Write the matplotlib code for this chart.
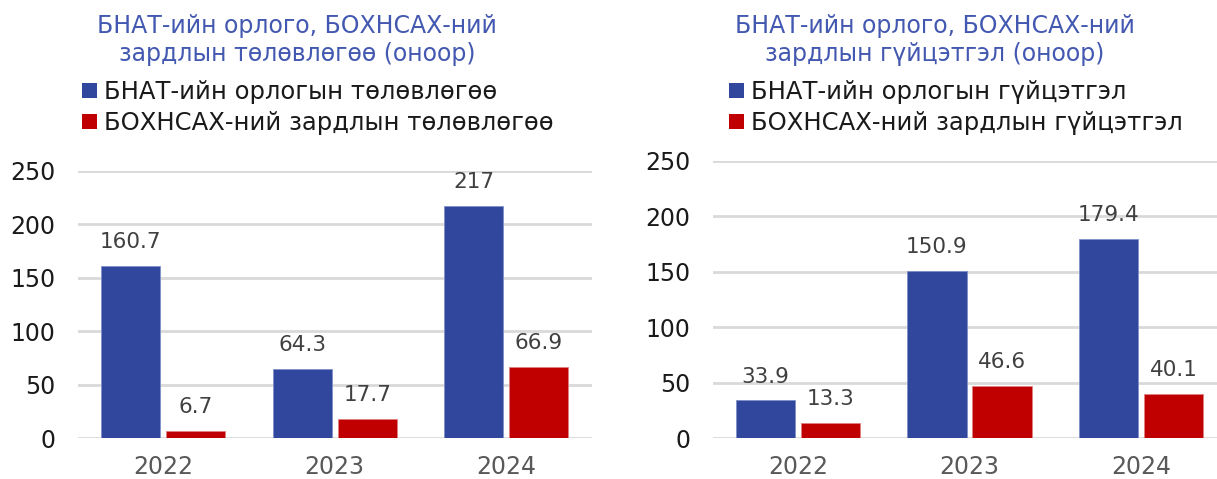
import matplotlib
matplotlib.use("Agg")
import matplotlib.pyplot as plt
from matplotlib.patches import Patch
import numpy as np

plt.rcParams['font.family'] = ['DejaVu Sans']

years = ["2022", "2023", "2024"]
plan_revenue = [160.7, 64.3, 217]
plan_expense = [6.7, 17.7, 66.9]
actual_revenue = [33.9, 150.9, 179.4]
actual_expense = [13.3, 46.6, 40.1]
yticks = [0, 50, 100, 150, 200, 250]

title_left = "БНАТ-ийн орлого, БОХНСАХ-ний\nзардлын төлөвлөгөө (оноор)"
title_right = "БНАТ-ийн орлого, БОХНСАХ-ний\nзардлын гүйцэтгэл (оноор)"
legend_left = ["БНАТ-ийн орлогын төлөвлөгөө", "БОХНСАХ-ний зардлын төлөвлөгөө"]
legend_right = ["БНАТ-ийн орлогын гүйцэтгэл", "БОХНСАХ-ний зардлын гүйцэтгэл"]

BLUE = "#31479D"
RED = "#C00000"
TITLE_C = "#4358B0"

W, H = 1217, 479
fig = plt.figure(figsize=(W / 100, H / 100), dpi=100)

def px_axes(x0, x1, ytop, ybot):
    return fig.add_axes([x0 / W, 1 - ybot / H, (x1 - x0) / W, (ybot - ytop) / H])

def draw(ax, s1, s2):
    x = np.arange(len(years))
    bw = 0.345
    off = 0.19
    b1 = ax.bar(x - off, s1, bw, color=BLUE, edgecolor="#8090c8", linewidth=0.6, zorder=3)
    b2 = ax.bar(x + off, s2, bw, color=RED, edgecolor="#e08080", linewidth=0.6, zorder=3)
    ax.bar_label(b1, labels=[f"{v:g}" for v in s1], padding=10, fontsize=15.5, color="#404040")
    ax.bar_label(b2, labels=[f"{v:g}" for v in s2], padding=10, fontsize=15.5, color="#404040")
    ax.set_xlim(-0.5, 2.5)
    ax.set_ylim(0, 250)
    ax.set_yticks(yticks)
    ax.set_xticks(x)
    ax.set_xticklabels(years)
    ax.tick_params(axis='x', length=0, pad=12, labelsize=17, labelcolor="#595959")
    ax.tick_params(axis='y', length=0, pad=16, labelsize=17, labelcolor="#1a1a1a")
    for sp in ax.spines.values():
        sp.set_visible(False)
    ax.grid(axis='y', color="#d9d9d9", linewidth=2, zorder=0)
    ax.set_axisbelow(True)
    ax.patch.set_alpha(0)

ax1 = px_axes(77.5, 592, 171, 438)
ax2 = px_axes(712.5, 1226.5, 161, 438)
draw(ax1, plan_revenue, plan_expense)
draw(ax2, actual_revenue, actual_expense)

fig.text(297 / W, 1 - 40 / H, title_left, ha="center", va="center", fontsize=17,
         color=TITLE_C, linespacing=1.25)
fig.text(935 / W, 1 - 40 / H, title_right, ha="center", va="center", fontsize=17,
         color=TITLE_C, linespacing=1.25)

def add_legend(labels, x_px):
    handles = [Patch(facecolor=BLUE, edgecolor="none"), Patch(facecolor=RED, edgecolor="none")]
    fig.legend(handles, labels, loc="upper left", bbox_to_anchor=(x_px / W, 1 - 80 / H),
               frameon=False, fontsize=17.5, handlelength=0.6, handleheight=0.6,
               handletextpad=0.3, labelspacing=0.28, borderaxespad=0, borderpad=0,
               labelcolor="#1a1a1a")

add_legend(legend_left, 82)
add_legend(legend_right, 729)

fig.savefig("out.png", dpi=100)
